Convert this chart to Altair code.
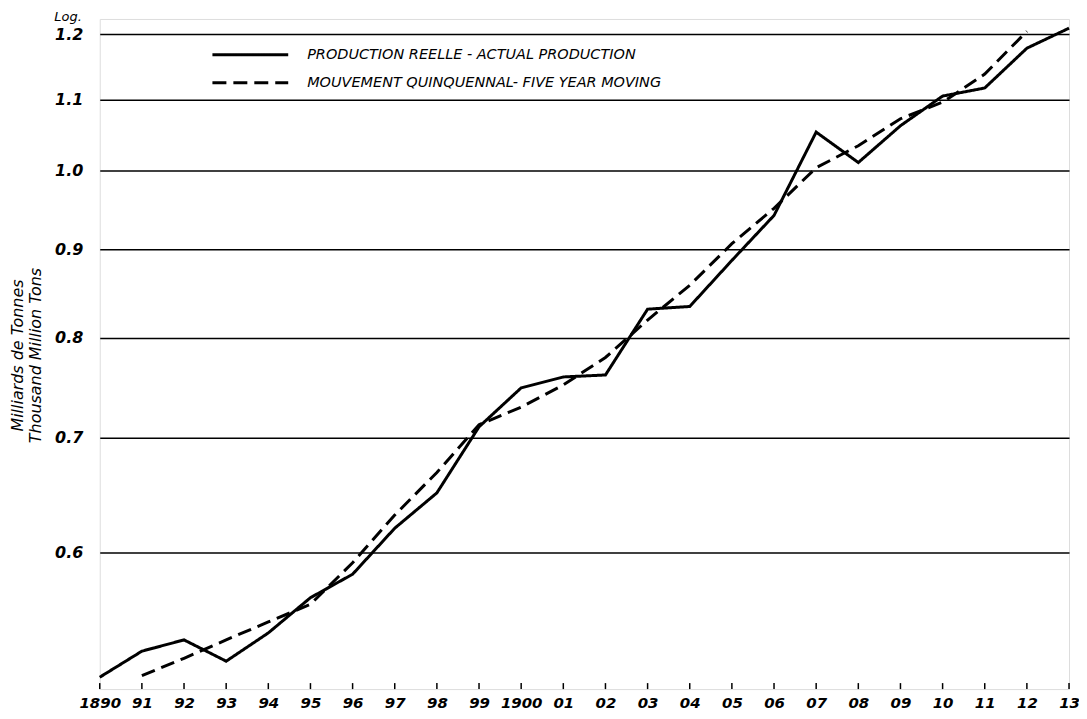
import altair as alt
import pandas as pd

years = list(range(1890, 1914))
actual = [0.508, 0.526, 0.534, 0.519, 0.539, 0.565, 0.583, 0.620, 0.650, 0.710,
          0.748, 0.759, 0.761, 0.831, 0.834, 0.887, 0.942, 1.053, 1.011, 1.062,
          1.105, 1.117, 1.178, 1.210]
moving_years = list(range(1891, 1913))
moving = [0.509, 0.521, 0.534, 0.547, 0.560, 0.592, 0.631, 0.668, 0.712, 0.729,
          0.751, 0.779, 0.819, 0.858, 0.907, 0.951, 1.004, 1.034, 1.072, 1.096,
          1.138, 1.205]
grid_values = [0.6, 0.7, 0.8, 0.9, 1.0, 1.1, 1.2]
series_names = ["PRODUCTION REELLE - ACTUAL PRODUCTION",
                "MOUVEMENT QUINQUENNAL- FIVE YEAR MOVING"]
series_dash = [[1, 0], [14, 7]]
y_title = ["Milliards de Tonnes", "Thousand Million Tons"]
log_label = ["Log."]

df = pd.concat([
    pd.DataFrame({"year": years, "value": actual, "series": series_names[0]}),
    pd.DataFrame({"year": moving_years, "value": moving, "series": series_names[1]}),
], ignore_index=True)
ticks_df = pd.DataFrame({"year": years})
log_df = pd.DataFrame({"t": log_label})

FONT = "DejaVu Sans"
W, H = 972, 672

x_scale = alt.Scale(domain=[1890, 1913], nice=False, zero=False)
y_scale = alt.Scale(type="log", domain=[0.5, 1.225], nice=False, zero=False)

x_enc = alt.X("year:Q", scale=x_scale, axis=alt.Axis(
    values=years, format="d",
    labelExpr="(datum.value == 1890 || datum.value == 1900) ? datum.label : slice(datum.label, 2)",
    title=None, domain=False, ticks=False, grid=False,
    labelFont=FONT, labelFontSize=15, labelFontStyle="italic", labelFontWeight="bold",
    labelColor="black", labelPadding=6, labelFlush=False, labelOverlap=False))

y_enc = alt.Y("value:Q", scale=y_scale, axis=alt.Axis(
    values=grid_values, format=".1f", grid=True, gridColor="black", gridWidth=1.5,
    gridOpacity=1, domain=False, ticks=False,
    labelFont=FONT, labelFontSize=16, labelFontStyle="italic", labelFontWeight="bold",
    labelColor="black", labelPadding=17,
    title=y_title, titleFont=FONT, titleFontSize=16, titleFontStyle="italic",
    titleFontWeight="normal", titleColor="black", titleX=-74, titleY=337,
    titleAlign="center"))

lines = alt.Chart(df).mark_line(strokeWidth=3, color="black").encode(
    x=x_enc, y=y_enc,
    strokeDash=alt.StrokeDash("series:N",
        scale=alt.Scale(domain=series_names, range=series_dash), legend=None),
)

ticks = alt.Chart(ticks_df).mark_rule(color="black", strokeWidth=1.5).encode(
    x=alt.X("year:Q", scale=x_scale), y=alt.value(H), y2=alt.value(H - 6))

log_text = alt.Chart(log_df).mark_text(
    font=FONT, fontSize=13, fontStyle="italic", align="right", baseline="middle",
    color="black").encode(text="t:N", x=alt.value(-18), y=alt.value(-2))

# manual legend (decoration)
legend_layers = []
row_y = [36, 64]
for name, dash, ry in zip(series_names, series_dash, row_y):
    ldf = pd.DataFrame({"label": [name]})
    legend_layers.append(
        alt.Chart(ldf).mark_rule(color="black", strokeWidth=3, strokeDash=dash).encode(
            x=alt.value(113), x2=alt.value(189), y=alt.value(ry)))
    legend_layers.append(
        alt.Chart(ldf).mark_text(font=FONT, fontSize=14.5, fontStyle="italic",
                                 align="left", baseline="middle", color="black").encode(
            text="label:N", x=alt.value(208), y=alt.value(ry)))

chart = alt.layer(lines, ticks, log_text, *legend_layers).properties(
    width=W, height=H, autosize="none",
    padding={"left": 92, "top": 10, "right": 10, "bottom": 25},
).configure_view(stroke="black", strokeWidth=2.5).configure(background="white")

chart.save("out.html", embed_options={"renderer": "svg", "actions": False})
